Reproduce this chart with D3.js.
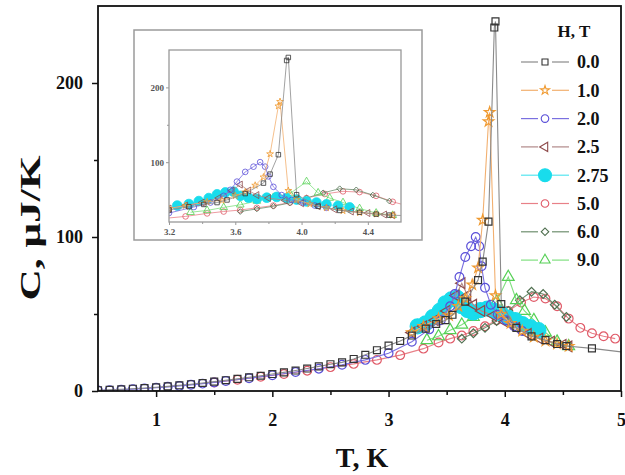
<!DOCTYPE html>
<html>
<head>
<meta charset="utf-8">
<script src="https://cdn.jsdelivr.net/npm/d3@7"></script>
<style>
  body { margin: 0; background: #fff; }
  text { font-family: "Liberation Serif", "Times New Roman", serif; font-weight: bold; }
</style>
</head>
<body>
<svg id="chart" width="625" height="475"></svg>
<script>
// field values (legend), one [T, C] list per field
const fields = ['0.0', '1.0', '2.0', '2.5', '2.75', '5.0', '6.0', '9.0'];

const h00 = [[0.5,0.5],[0.6,0.8],[0.7,1.1],[0.8,1.5],[0.9,1.9],[1.0,2.4],[1.1,3.0],[1.2,3.7],[1.3,4.4],[1.4,5.2],
  [1.5,6.1],[1.6,7.0],[1.7,7.9],[1.8,8.9],[1.9,9.9],[2.0,11.0],[2.1,12.1],[2.2,13.3],[2.3,14.6],[2.4,16.0],
  [2.5,17.4],[2.6,18.6],[2.7,20.8],[2.8,23.5],[2.9,26.5],[3.0,29.5],[3.1,32.5],[3.2,36],[3.32,40.5],[3.41,43.5],
  [3.49,46],[3.55,49.5],[3.66,58],[3.77,72],[3.81,84],[3.86,110],[3.91,236],[3.92,240],[3.97,56.5],[4.1,41],
  [4.23,35.5],[4.35,33],[4.45,30.5],[4.53,29.2],[4.75,27.7],[5.1,24.5]];
const h10 = [[3.2,38],[3.3,42],[3.43,47],[3.52,49],[3.6,55],[3.66,60],[3.72,69],[3.77,80],[3.81,111],[3.86,175],
  [3.87,181],[3.92,62],[3.97,50],[4.05,44],[4.15,39],[4.25,35],[4.35,32.5],[4.45,30.5],[4.55,29]];
const h20 = [[0.5,0.3],[0.6,0.5],[0.7,0.8],[0.8,1.2],[0.9,1.6],[1.0,2.1],[1.1,2.7],[1.2,3.3],[1.3,4.0],[1.4,4.8],
  [1.5,5.6],[1.6,6.5],[1.8,8.3],[2.0,10.2],[2.2,12.3],[2.4,14.5],[2.6,17.0],[2.8,20.2],[3.0,24.5],[3.2,32],
  [3.35,40],[3.45,46],[3.53,55],[3.57,63],[3.61,74],[3.66,87],[3.71,94],[3.75,100],[3.78,94],[3.8,81],
  [3.83,67],[3.88,56],[3.94,49.5],[4.01,46],[4.08,42],[4.15,39]];
const h25 = [[3.2,38],[3.3,42],[3.4,46],[3.5,52],[3.58,62],[3.63,70],[3.68,62],[3.73,56],[3.8,52],[3.9,49],
  [4.0,45],[4.1,41],[4.2,37],[4.3,34],[4.4,32],[4.5,30],[4.55,29]];
const h275 = [[3.25,42],[3.32,44],[3.38,48],[3.44,52],[3.49,57],[3.54,59.5],[3.59,60.5],[3.63,55],[3.68,52.5],[3.73,51],
  [3.79,52.5],[3.85,53.5],[3.91,52],[3.97,50],[4.03,47.5],[4.09,46],[4.15,43.5],[4.22,41.5],[4.29,39.5]];
const h50 = [[1.5,5.5],[1.7,7.3],[1.9,9.2],[2.1,11.0],[2.3,13.2],[2.5,15.5],[2.7,17.6],[2.9,20.2],[3.1,23.3],[3.3,27.5],
  [3.43,31.5],[3.53,34],[3.63,36],[3.73,39],[3.83,42],[3.93,46],[4.03,52],[4.14,57.5],[4.25,61],[4.35,60],
  [4.45,55],[4.55,47],[4.65,41],[4.75,37.5],[4.85,35.5],[4.95,34]];
const h60 = [[3.63,34],[3.73,37.5],[3.83,41],[3.93,45.5],[4.03,52],[4.13,59],[4.23,64.5],[4.33,63],[4.43,56],[4.53,48]];
const h90 = [[3.33,33],[3.43,35.5],[3.53,39.5],[3.63,43],[3.73,48],[3.83,53],[3.93,58],[4.03,74],[4.1,59],[4.17,52],
  [4.25,46],[4.35,38],[4.45,32],[4.55,29]];

const seriesData = {'0.0': h00, '1.0': h10, '2.0': h20, '2.5': h25, '2.75': h275, '5.0': h50, '6.0': h60, '9.0': h90};

// drawing order (back to front)
const drawOrder = ['5.0', '6.0', '9.0', '2.75', '2.5', '2.0', '1.0', '0.0'];

const xTicks = [1, 2, 3, 4, 5];
const yTicks = [0, 100, 200];
const insetXTicks = [3.2, 3.6, 4.0, 4.4];
const insetYTicks = [100, 200];

// marker looks
const tri = d3.symbolTriangle;
const styles = {
  '0.0':  {line: '#8a8a8a', color: '#333333', type: d3.symbolSquare, size: 48, fill: false},
  '1.0':  {line: '#f2b070', color: '#f09a30', type: d3.symbolStar, size: 34, fill: false},
  '2.0':  {line: '#7a70e0', color: '#5a4fd8', type: d3.symbolCircle, size: 60, fill: false},
  '2.5':  {line: '#b08888', color: '#8e4a4a', type: tri, size: 50, fill: false, rot: -90},
  '2.75': {line: '#55e5f0', color: '#19dcec', type: d3.symbolCircle, size: 175, fill: true},
  '5.0':  {line: '#e88088', color: '#e05a68', type: d3.symbolCircle, size: 60, fill: false},
  '6.0':  {line: '#6f8f6f', color: '#4f6f4f', type: d3.symbolSquare, size: 38, fill: false, rot: 45},
  '9.0':  {line: '#80e080', color: '#55d055', type: tri, size: 60, fill: false}
};

const svg = d3.select('#chart');

// main frame
const pLeft = 98, pRight = 621, pTop = 6, pBottom = 391;
const x = d3.scaleLinear().domain([0.5, 5]).range([pLeft, pRight]);
const y = d3.scaleLinear().domain([0, 250]).range([pBottom, pTop]);

function drawSeries(g, xs, ys, k, clipId) {
  const layer = g.append('g').attr('clip-path', `url(#${clipId})`);
  drawOrder.forEach((name) => {
    const st = styles[name];
    const data = seriesData[name];
    const line = d3.line().x(d => xs(d[0])).y(d => ys(d[1]));
    layer.append('path')
      .datum(data)
      .attr('d', line)
      .attr('fill', 'none')
      .attr('stroke', st.line)
      .attr('stroke-width', k < 1 ? 0.8 : 1.1);
    const sym = d3.symbol().type(st.type).size(st.size * k * k);
    layer.selectAll(null)
      .data(data)
      .enter()
      .append('path')
      .attr('d', sym)
      .attr('transform', d => `translate(${xs(d[0])},${ys(d[1])})` + (st.rot ? ` rotate(${st.rot})` : ''))
      .attr('fill', st.fill ? st.color : 'none')
      .attr('stroke', st.color)
      .attr('stroke-width', k < 1 ? 0.8 : 1.2);
  });
}

const defs = svg.append('defs');
defs.append('clipPath').attr('id', 'mainClip')
  .append('rect').attr('x', pLeft).attr('y', pTop).attr('width', pRight - pLeft).attr('height', pBottom - pTop);

drawSeries(svg, x, y, 1, 'mainClip');

// frame
svg.append('rect')
  .attr('x', pLeft).attr('y', pTop)
  .attr('width', pRight - pLeft).attr('height', pBottom - pTop)
  .attr('fill', 'none').attr('stroke', '#111').attr('stroke-width', 1.8);

// axes
const xAxisG = svg.append('g').attr('transform', `translate(0,${pBottom})`);
xAxisG.call(d3.axisBottom(x).tickValues(xTicks).tickSize(6).tickPadding(16).tickFormat(d3.format('d')).tickSizeOuter(0));
svg.append('g').attr('transform', `translate(0,${pBottom})`)
  .call(d3.axisBottom(x).tickValues([1.5, 2.5, 3.5, 4.5]).tickSize(4).tickFormat('').tickSizeOuter(0));

const yAxisG = svg.append('g').attr('transform', `translate(${pLeft},0)`);
yAxisG.call(d3.axisLeft(y).tickValues(yTicks).tickSize(6).tickPadding(9).tickSizeOuter(0));
svg.append('g').attr('transform', `translate(${pLeft},0)`)
  .call(d3.axisLeft(y).tickValues([50, 150]).tickSize(4).tickFormat('').tickSizeOuter(0));

svg.selectAll('.domain').remove();
svg.selectAll('.tick line').attr('stroke', '#111').attr('stroke-width', 1.5);
xAxisG.selectAll('text').attr('font-size', 18).attr('fill', '#111');
yAxisG.selectAll('text').attr('font-size', 18).attr('fill', '#111');

// axis titles
svg.append('text')
  .attr('x', 362).attr('y', 467)
  .attr('text-anchor', 'middle')
  .attr('font-size', 28)
  .attr('fill', '#111')
  .text('T, K');

svg.append('text')
  .attr('transform', 'translate(40,228) rotate(-90)')
  .attr('text-anchor', 'middle')
  .attr('font-size', 30)
  .attr('textLength', 145)
  .attr('lengthAdjust', 'spacingAndGlyphs')
  .attr('fill', '#111')
  .text('C, μJ/K');

// inset
const insetG = svg.append('g');
insetG.append('rect')
  .attr('x', 134).attr('y', 30).attr('width', 288).attr('height', 210)
  .attr('fill', '#fff').attr('stroke', '#9a9a9a').attr('stroke-width', 1.5);

const iLeft = 169, iRight = 401, iTop = 50, iBottom = 222;
const ix = d3.scaleLinear().domain([3.2, 4.6]).range([iLeft, iRight]);
const iy = d3.scaleLinear().domain([20, 250]).range([iBottom, iTop]);

defs.append('clipPath').attr('id', 'insetClip')
  .append('rect').attr('x', iLeft).attr('y', iTop).attr('width', iRight - iLeft).attr('height', iBottom - iTop);

drawSeries(insetG, ix, iy, 0.65, 'insetClip');

insetG.append('rect')
  .attr('x', iLeft).attr('y', iTop)
  .attr('width', iRight - iLeft).attr('height', iBottom - iTop)
  .attr('fill', 'none').attr('stroke', '#999').attr('stroke-width', 1.3);

insetG.append('g').attr('transform', `translate(0,${iBottom})`)
  .call(d3.axisBottom(ix).tickValues(insetXTicks).tickSize(3).tickPadding(4).tickFormat(d3.format('.1f')).tickSizeOuter(0));
insetG.append('g').attr('transform', `translate(0,${iBottom})`)
  .call(d3.axisBottom(ix).tickValues([3.4, 3.8, 4.2]).tickSize(2).tickFormat('').tickSizeOuter(0));
insetG.append('g').attr('transform', `translate(${iLeft},0)`)
  .call(d3.axisLeft(iy).tickValues(insetYTicks).tickSize(3).tickPadding(2).tickSizeOuter(0));
insetG.append('g').attr('transform', `translate(${iLeft},0)`)
  .call(d3.axisLeft(iy).tickValues([150]).tickSize(2).tickFormat('').tickSizeOuter(0));

insetG.selectAll('.domain').remove();
insetG.selectAll('.tick line').attr('stroke', '#999').attr('stroke-width', 1);
insetG.selectAll('.tick text').attr('font-size', 9).attr('fill', '#555');

// legend
const legend = svg.append('g');
legend.append('text')
  .attr('x', 574).attr('y', 37)
  .attr('text-anchor', 'middle')
  .attr('font-size', 17)
  .attr('fill', '#111')
  .text('H, T');

fields.forEach((name, i) => {
  const st = styles[name];
  const ly = 62 + i * 28.3;
  const row = legend.append('g').attr('transform', `translate(545,${ly})`);
  row.append('line').attr('x1', -24).attr('x2', -7).attr('stroke', st.line).attr('stroke-width', 1.2);
  row.append('line').attr('x1', 7).attr('x2', 24).attr('stroke', st.line).attr('stroke-width', 1.2);
  row.append('path')
    .attr('d', d3.symbol().type(st.type).size(st.size * 0.75)())
    .attr('transform', st.rot ? `rotate(${st.rot})` : null)
    .attr('fill', st.fill ? st.color : 'none')
    .attr('stroke', st.color)
    .attr('stroke-width', 1.1);
  row.append('text')
    .attr('x', 32).attr('dy', '0.35em')
    .attr('font-size', 18)
    .attr('fill', '#111')
    .text(name);
});
</script>
</body>
</html>
